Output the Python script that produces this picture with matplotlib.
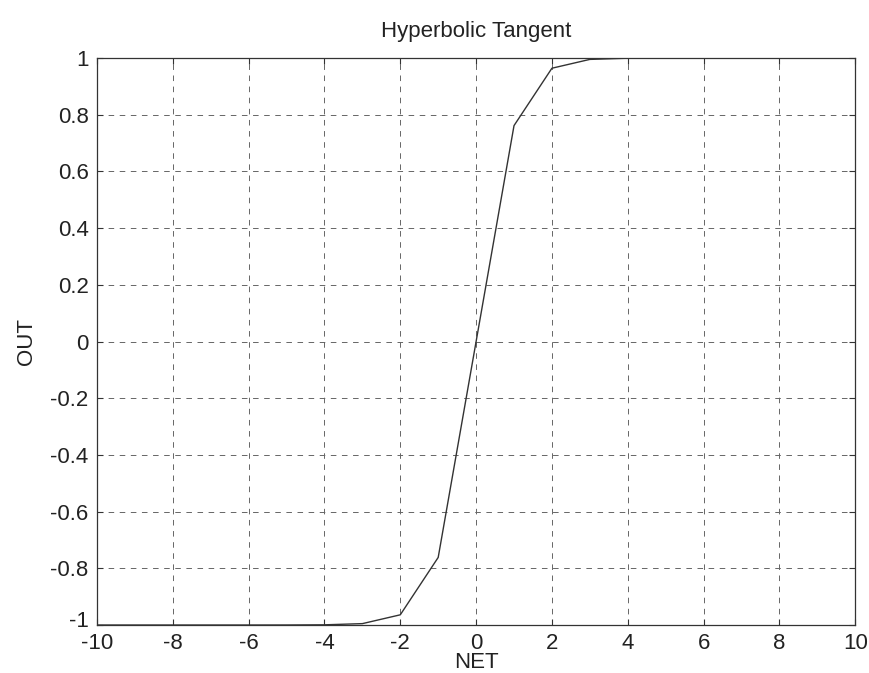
import matplotlib
matplotlib.use("Agg")
import matplotlib.pyplot as plt
from matplotlib.transforms import ScaledTranslation

plt.rcParams['font.family'] = ['Liberation Sans', 'DejaVu Sans']
plt.rcParams['lines.scale_dashes'] = False

net = [-10, -9, -8, -7, -6, -5, -4, -3, -2, -1, 0, 1, 2, 3, 4, 5, 6, 7, 8, 9, 10]
out = [-1.0, -1.0, -1.0, -1.0, -1.0, -0.9999, -0.9993, -0.9951, -0.9640, -0.7616,
       0.0, 0.7616, 0.9640, 0.9951, 0.9993, 0.9999, 1.0, 1.0, 1.0, 1.0, 1.0]
xticks = [-10, -8, -6, -4, -2, 0, 2, 4, 6, 8, 10]
yticks = [-1, -0.8, -0.6, -0.4, -0.2, 0, 0.2, 0.4, 0.6, 0.8, 1]
ytick_labels = ['-1', '-0.8', '-0.6', '-0.4', '-0.2', '0', '0.2', '0.4', '0.6', '0.8', '1']

fig = plt.figure(figsize=(8.7, 6.73), dpi=100)
ax = fig.add_axes([0.1115, 0.0713, 0.8715, 0.8425])
ax.plot(net, out, color='#333333', linewidth=1.0)
ax.set_xlim(-10, 10)
ax.set_ylim(-1, 1)
ax.set_xticks(xticks)
ax.set_xticklabels([str(t) for t in xticks])
ax.set_yticks(yticks)
ax.set_yticklabels(ytick_labels)
ax.grid(True, color='#666666', linewidth=0.7, linestyle=(0, (4, 4)))
ax.tick_params(direction='in', length=4, width=0.8, labelsize=16,
               top=True, right=True, colors='#333333', labelcolor='#222222')
ax.tick_params(axis='x', pad=6)
ax.tick_params(axis='y', pad=6)
for s in ax.spines.values():
    s.set_linewidth(0.9)
    s.set_color('#333333')
# lift the bottom y label slightly so it clears the first x label
lbl = ax.get_yticklabels()[0]
lbl.set_transform(lbl.get_transform() + ScaledTranslation(0, 4 / 72, fig.dpi_scale_trans))
ax.set_title('Hyperbolic Tangent', fontsize=16, pad=15, color='#222222')
ax.set_xlabel('NET', fontsize=16, labelpad=-1.5, color='#222222')
ax.set_ylabel('OUT', fontsize=16, labelpad=10, color='#222222')
fig.savefig('out.png', dpi=100)
